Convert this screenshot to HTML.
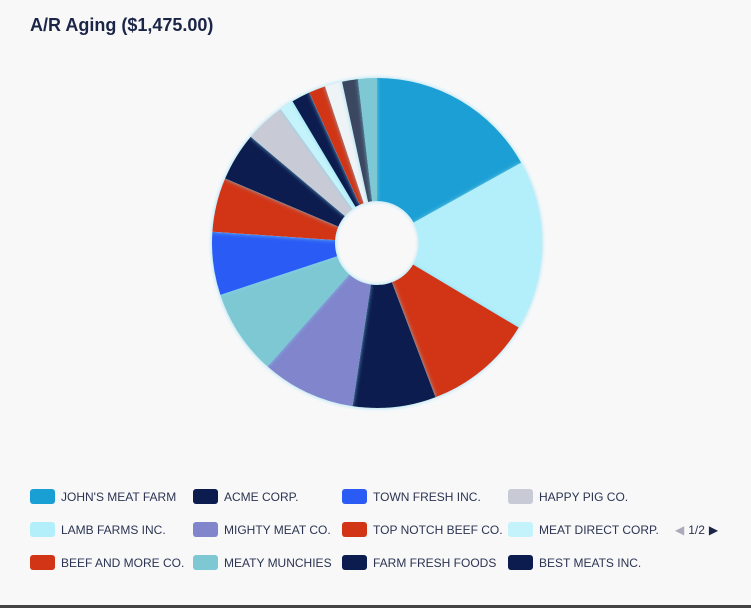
<!DOCTYPE html>
<html><head><meta charset="utf-8"><style>
body{margin:0;width:751px;height:608px;background:#f8f8f9;font-family:"Liberation Sans",sans-serif;overflow:hidden;position:relative}
#title{position:absolute;left:30px;top:15px;font-size:18px;font-weight:bold;color:#1b2547}
#bottomline{position:absolute;left:0;top:605px;width:751px;height:3px;background:#444}
.leg{position:absolute;font-size:12px;color:#2b3452;display:flex;align-items:center;white-space:nowrap}
.sw{width:25px;height:15px;border-radius:3px;margin-right:6px}
#pager{position:absolute;left:675px;top:523px;font-size:12px;color:#2b3452;display:flex;align-items:center;gap:4px}
</style></head><body>
<div id="title">A/R Aging ($1,475.00)</div>
<svg id="chart" width="751" height="470" style="position:absolute;left:0;top:0">
<defs><filter id="glow" x="-20%" y="-20%" width="140%" height="140%"><feDropShadow dx="0" dy="0" stdDeviation="2" flood-color="#7fd8f0" flood-opacity="0.8"/></filter></defs>
<g id="slices"></g>
</svg>
<div id="legend"></div>
<div id="pager"><span style="color:#aab">&#9664;</span><span>1/2</span><span style="color:#1b2547">&#9654;</span></div>
<div id="bottomline"></div>
<script>
const names=["John's Meat Farm","Lamb Farms Inc.","Top Notch Beef Co.","Acme Corp.","Mighty Meat Co.","Meaty Munchies","Town Fresh Inc.","Beef and More Co.","Farm Fresh Foods","Happy Pig Co.","Meat Direct Corp.","Best Meats Inc.","Other Client A","Other Client B","Other Client C","Other Client D"];
const values=[249,245,157,120,135,123,91,78,70,58,20,27,24,25,23,27];
const colors=["#1a9fd4","#b3effa","#d13516","#0d1c4f","#8085cc","#7ec8d4","#2a5cf5","#d13516","#0d1c4f","#c8cbd6","#c4f3fb","#0d1c4f","#d13516","#eef3f6","#3a4660","#7ec8d4"];
const legendOrder=[0,3,6,9,1,4,2,10,7,5,8,11];
const cx=377,cy=243,R=165,r=42;
const total=values.reduce((a,b)=>a+b,0);
const g=document.getElementById('slices');
let a0=0;
function pt(a,rad){return [cx+rad*Math.sin(a),cy-rad*Math.cos(a)];}
values.forEach((v,i)=>{
 const a1=a0+v/total*2*Math.PI;
 const [x1,y1]=pt(a0,R),[x2,y2]=pt(a1,R),[x3,y3]=pt(a1,r),[x4,y4]=pt(a0,r);
 const lg=(a1-a0)>Math.PI?1:0;
 const p=document.createElementNS('http://www.w3.org/2000/svg','path');
 p.setAttribute('d',`M${x1},${y1}A${R},${R} 0 ${lg} 1 ${x2},${y2}L${x3},${y3}A${r},${r} 0 ${lg} 0 ${x4},${y4}Z`);
 p.setAttribute('fill',colors[i]);
 p.setAttribute('filter','url(#glow)');
 
 
 g.appendChild(p);
 a0=a1;
});
const colX=[30,193,342,508],rowY=[489,522,555];
const lg=document.getElementById('legend');
legendOrder.forEach((idx,k)=>{
 const d=document.createElement('div');
 d.className='leg';
 d.style.left=colX[k%4]+'px';d.style.top=rowY[Math.floor(k/4)]+'px';
 d.innerHTML='<span class="sw" style="background:'+colors[idx]+'"></span>'+names[idx].toUpperCase();
 
 
 lg.appendChild(d);
});
</script>
</body></html>
